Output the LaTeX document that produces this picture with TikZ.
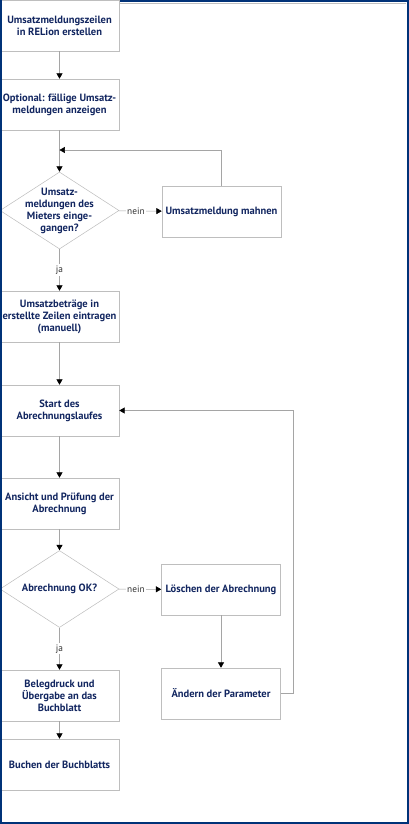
\documentclass[tikz,border=0pt]{standalone}
\usepackage{fontspec}
\setmainfont{PT Sans}
\usepackage{tikz}
\usetikzlibrary{arrows.meta,shapes.geometric,positioning}

\definecolor{navytext}{RGB}{18,38,96}
\definecolor{boxgray}{RGB}{190,190,190}
\definecolor{linegray}{RGB}{165,165,165}
\definecolor{frameblue}{RGB}{0,50,120}

\begin{document}
\begin{tikzpicture}[
  x=0.75pt, y=-0.75pt,
  box/.style={draw=boxgray, minimum width=89.25pt, minimum height=38.25pt,
    align=center, inner sep=1pt, text=navytext,
    font=\fontsize{7.9}{9}\selectfont\bfseries},
  decision/.style={diamond, draw=boxgray, minimum width=89.25pt,
    minimum height=57.75pt, inner sep=0pt},
  qtext/.style={align=center, text=navytext,
    font=\fontsize{7.9}{9}\selectfont\bfseries},
  arr/.style={draw=linegray, -{Triangle[length=4pt,width=4.5pt,color=black]}},
  lbl/.style={fill=white, inner sep=1pt, text=black!80,
    font=\fontsize{7}{8}\selectfont}
  ]

\useasboundingbox (0,0) rectangle (409,824);

\node[box] (meldzeilen) at (59.5,25.5) {Umsatzmeldungszeilen\\in RELion erstellen};
\node[box] (faellige) at (59.5,104.5) {Optional: fällige Umsatz-\\meldungen anzeigen};
\coordinate (rueck) at (59.5,150);
\node[decision, label={[qtext]center:Umsatz-\\meldungen des\\Mieters einge-\\gangen?}] (eingang) at (59.5,210.5) {};
\node[box] (mahnen) at (221.5,211.5) {Umsatzmeldung mahnen};
\node[box] (betraege) at (59.5,316.5) {Umsatzbeträge in\\erstellte Zeilen eintragen\\(manuell)};
\node[box] (start) at (59.5,410.5) {Start des\\Abrechnungslaufes};
\node[box] (pruefung) at (59.5,503.5) {Ansicht und Prüfung der\\Abrechnung};
\node[decision, label={[qtext]center:Abrechnung OK?}] (ok) at (59.5,589) {};
\node[box] (loeschen) at (221,589.5) {Löschen der Abrechnung};
\node[box] (aendern) at (221,693.5) {Ändern der Parameter};
\node[box] (belegdruck) at (59.5,695.5) {Belegdruck und\\Übergabe an das\\Buchblatt};
\node[box] (buchen) at (59.5,764.5) {Buchen der Buchblatts};

\draw[arr] (meldzeilen) -- (faellige);
\draw[arr] (faellige) -- (eingang);
\draw[arr] (mahnen.north) |- (rueck);
\draw[arr] (eingang) -- node[lbl, pos=0.4] {nein} (mahnen);
\draw[arr] (eingang) -- node[lbl] {ja} (betraege);
\draw[arr] (betraege) -- (start);
\draw[arr] (start) -- (pruefung);
\draw[arr] (pruefung) -- (ok);
\draw[arr] (ok) -- node[lbl, pos=0.4] {nein} (loeschen);
\draw[arr] (loeschen) -- (aendern);
\draw[arr] (aendern.east) -- ++(12,0) |- (start.east);
\draw[arr] (ok) -- node[lbl] {ja} (belegdruck);
\draw[arr] (belegdruck) -- (buchen);

\draw[linegray!70, line width=0.6pt] (120,3.5) -- (406,3.5);
\draw[frameblue, line width=1.5pt] (120,1) -- (408,1) -- (408,823) -- (1,823) -- (1,0);

\end{tikzpicture}
\end{document}
